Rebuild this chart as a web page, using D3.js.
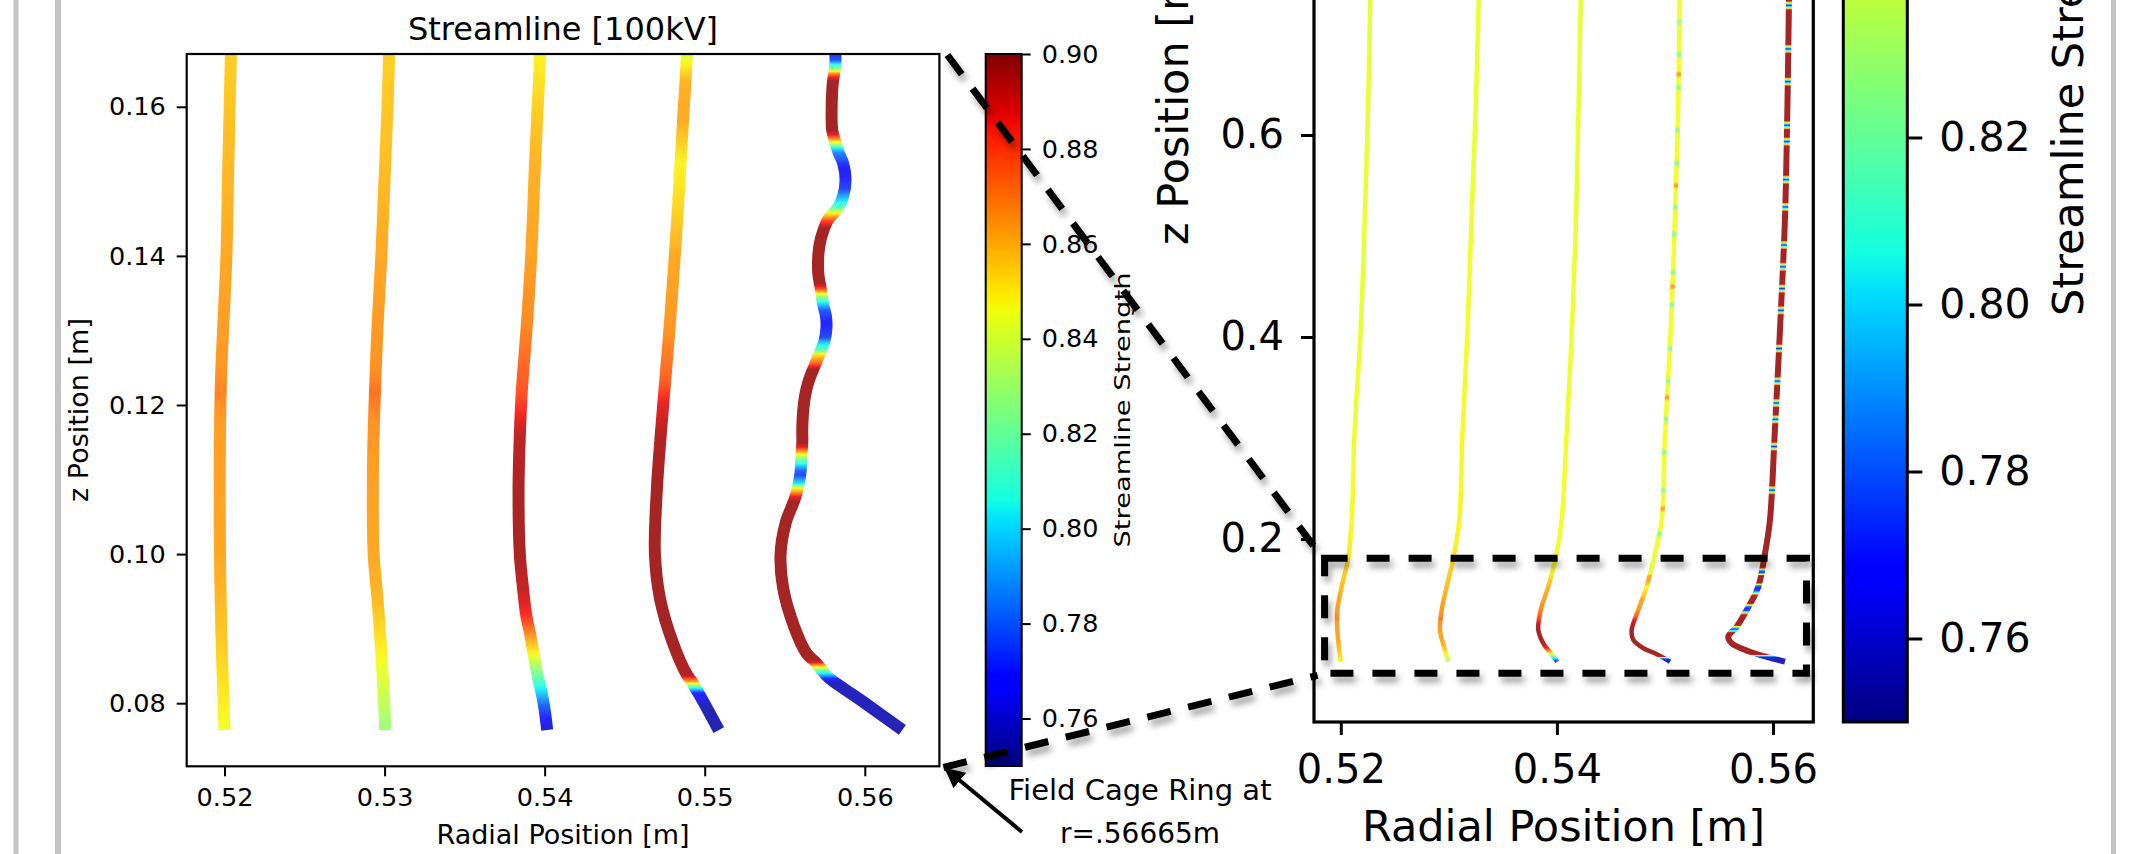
<!DOCTYPE html>
<html>
<head>
<meta charset="utf-8">
<script src="https://cdn.jsdelivr.net/npm/d3@7"></script>
<style>
  html, body { margin: 0; padding: 0; background: #fff; overflow: hidden; }
  svg { display: block; }
  text { font-family: "DejaVu Sans", sans-serif; fill: #000; }
</style>
</head>
<body>
<svg id="fig" width="2150" height="854"></svg>
<script>
// ---------------- data ----------------
// Detailed streamline paths near the cathode, [radial position (m), z position (m)], top to bottom.
const path1 = [[0.5229,0.80],[0.52273,0.7337],[0.52252,0.6258],[0.52222,0.5179],[0.52185,0.4101],[0.52126,0.3023],[0.52052,0.1944],
  [0.52040,0.1670],[0.52024,0.1524],[0.52012,0.1400],[0.51976,0.1217],[0.51972,0.1000],[0.51984,0.0867],[0.52000,0.0764]];
const path2 = [[0.5329,0.80],[0.53277,0.7337],[0.53248,0.6258],[0.53210,0.5179],[0.53174,0.4101],[0.53107,0.3023],[0.53035,0.1944],
  [0.53028,0.1670],[0.53004,0.1524],[0.52980,0.1400],[0.52956,0.1305],[0.52940,0.1217],[0.52928,0.1122],[0.52932,0.1000],
  [0.52956,0.0940],[0.52980,0.0867],[0.52996,0.0808],[0.53004,0.0764]];
const path3 = [[0.5423,0.80],[0.54221,0.7337],[0.54200,0.6258],[0.54177,0.5179],[0.54140,0.4101],[0.54089,0.3023],[0.54000,0.1944],
  [0.53972,0.1670],[0.53956,0.1597],[0.53940,0.1524],[0.53916,0.1400],[0.53888,0.1305],[0.53857,0.1217],[0.53845,0.1159],
  [0.53837,0.1086],[0.53845,0.1000],[0.53865,0.0954],[0.53885,0.0918],[0.53910,0.0892],[0.53930,0.0867],[0.53956,0.0837],
  [0.53976,0.0819],[0.53996,0.0797],[0.54016,0.0764]];
const path4 = [[0.5514,0.80],[0.55136,0.7337],[0.55122,0.6258],[0.55092,0.5179],[0.55055,0.4101],[0.54988,0.3023],[0.54900,0.1944],
  [0.54888,0.1670],[0.54880,0.1634],[0.54865,0.1583],[0.54849,0.1524],[0.54829,0.1451],[0.54813,0.1400],[0.54781,0.1305],
  [0.54753,0.1232],[0.54725,0.1159],[0.54701,0.1086],[0.54689,0.1000],[0.54721,0.0940],[0.54801,0.0881],[0.54892,0.0837],
  [0.54920,0.0829],[0.54940,0.0821],[0.54960,0.0814],[0.55012,0.0794],[0.55088,0.0764]];
const path5 = [[0.5616,0.80],[0.56148,0.7337],[0.56133,0.6258],[0.56111,0.5179],[0.56066,0.4101],[0.56015,0.3023],[0.55920,0.1944],
  [0.55817,0.16701],[0.55817,0.16592],[0.55809,0.16446],[0.55801,0.16336],[0.55793,0.15971],[0.55797,0.15679],[0.55817,0.15518],
  [0.55837,0.15386],[0.55865,0.15240],[0.55880,0.15021],[0.55865,0.14802],[0.55825,0.14619],[0.55777,0.14510],[0.55745,0.14364],
  [0.55717,0.14145],[0.55709,0.13779],[0.55725,0.13560],[0.55737,0.13378],[0.55757,0.13195],[0.55761,0.13049],[0.55749,0.12866],
  [0.55717,0.12684],[0.55689,0.12538],[0.55649,0.12318],[0.55625,0.12099],[0.55610,0.11734],[0.55610,0.11515],[0.55606,0.11369],
  [0.55602,0.11223],[0.55598,0.11077],[0.55586,0.10931],[0.55574,0.10821],[0.55558,0.10711],[0.55506,0.10419],[0.55474,0.10003],
  [0.55490,0.09543],[0.55558,0.09031],[0.55637,0.08666],[0.55689,0.08557],[0.55717,0.08484],[0.55745,0.08411],[0.55777,0.08337],
  [0.55996,0.08009],[0.56235,0.07643]];

// Coarser streamline paths of the full-height view, [radial position (m), z position (m)].
const fullPath1 = [[0.5229,0.80],[0.52273,0.7337],[0.52252,0.6258],[0.52222,0.5179],[0.52185,0.4101],[0.52126,0.3023],[0.52101,0.2188],
  [0.52069,0.1809],[0.52008,0.1528],[0.51968,0.1297],[0.51968,0.1099],[0.51999,0.0785]];
const fullPath2 = [[0.5329,0.80],[0.53277,0.7337],[0.53248,0.6258],[0.53210,0.5179],[0.53174,0.4101],[0.53125,0.3023],[0.53097,0.2188],
  [0.53041,0.1809],[0.52980,0.1528],[0.52934,0.1297],[0.52918,0.1099],[0.52955,0.0934],[0.52995,0.0785]];
const fullPath3 = [[0.5423,0.80],[0.54221,0.7337],[0.54200,0.6258],[0.54177,0.5179],[0.54140,0.4101],[0.54089,0.3023],[0.54044,0.2188],
  [0.53998,0.1858],[0.53920,0.1528],[0.53850,0.1297],[0.53828,0.1099],[0.53874,0.0967],[0.53943,0.0868],[0.54004,0.0785]];
const fullPath4 = [[0.5514,0.80],[0.55136,0.7337],[0.55122,0.6258],[0.55092,0.5179],[0.55055,0.4101],[0.55000,0.3023],[0.54970,0.2188],
  [0.54908,0.1858],[0.54831,0.1528],[0.54753,0.1297],[0.54692,0.1099],[0.54707,0.1000],[0.54800,0.0918],[0.54908,0.0868],[0.55047,0.0785]];
const fullPath5 = [[0.5616,0.80],[0.56148,0.7337],[0.56133,0.6258],[0.56111,0.5179],[0.56066,0.4101],[0.56015,0.3023],[0.55972,0.2188],
  [0.55926,0.1858],[0.55864,0.1528],[0.55757,0.1297],[0.55664,0.1132],[0.55586,0.1033],[0.55618,0.0967],[0.55787,0.0884],[0.56111,0.0785]];

// Streamline strength along each line as [z position (m), strength], top to bottom.
const strength1 = [[0.80,0.843],[0.30,0.845],[0.20,0.848],[0.167,0.855],[0.14,0.862],[0.125,0.865],[0.1217,0.869],[0.118,0.864],
  [0.10,0.862],[0.09,0.857],[0.0764,0.846]];
const strength2 = [[0.80,0.843],[0.20,0.848],[0.167,0.855],[0.1524,0.858],[0.14,0.862],[0.125,0.866],[0.1217,0.872],[0.118,0.866],
  [0.1122,0.864],[0.10,0.862],[0.094,0.859],[0.0867,0.848],[0.0808,0.838],[0.0764,0.828]];
const strength3 = [[0.80,0.843],[0.20,0.846],[0.167,0.848],[0.1597,0.855],[0.1524,0.860],[0.14,0.863],[0.1305,0.868],[0.1217,0.878],
  [0.1159,0.893],[0.1086,0.896],[0.10,0.896],[0.0954,0.892],[0.0918,0.884],[0.0892,0.866],[0.0867,0.848],[0.0837,0.820],
  [0.0819,0.803],[0.0797,0.780],[0.0764,0.758]];
const strength4 = [[0.80,0.846],[0.20,0.846],[0.172,0.843],[0.167,0.842],[0.1634,0.860],[0.1583,0.862],[0.1524,0.848],[0.1451,0.855],
  [0.14,0.862],[0.1305,0.865],[0.1232,0.875],[0.1210,0.885],[0.1159,0.895],[0.1086,0.897],[0.10,0.897],[0.0881,0.897],
  [0.0837,0.895],[0.0829,0.862],[0.0821,0.810],[0.0814,0.770],[0.0794,0.755],[0.0764,0.755]];
const strength5 = [[0.80,0.897],[0.20,0.897],[0.1720,0.897],[0.1705,0.860],[0.1690,0.800],[0.1675,0.772],
  [0.1670,0.772],[0.1663,0.776],[0.1657,0.805],[0.1650,0.830],[0.1645,0.865],[0.1640,0.886],[0.1634,0.897],[0.1568,0.897],
  [0.1562,0.886],[0.1556,0.862],[0.1550,0.835],[0.1545,0.805],[0.1538,0.785],[0.1515,0.765],[0.1490,0.775],[0.1475,0.800],
  [0.1465,0.815],[0.1457,0.850],[0.1447,0.880],[0.1437,0.897],[0.1363,0.897],[0.1356,0.880],[0.1350,0.850],[0.1343,0.820],
  [0.1336,0.800],[0.1327,0.778],[0.1310,0.768],[0.1291,0.775],[0.1283,0.800],[0.1274,0.815],[0.1268,0.850],[0.1258,0.870],
  [0.1248,0.897],[0.1149,0.897],[0.1143,0.885],[0.1138,0.865],[0.1134,0.848],[0.1128,0.825],[0.1120,0.803],[0.1112,0.780],
  [0.1106,0.775],[0.1100,0.790],[0.1094,0.805],[0.1089,0.845],[0.1083,0.865],[0.1078,0.885],[0.1070,0.897],[0.0858,0.897],
  [0.0854,0.885],[0.0849,0.850],[0.0843,0.815],[0.0838,0.795],[0.0833,0.770],[0.0828,0.757],[0.0764,0.755]];

// Short bands of differing strength along the upper parts of the outer lines (z positions, m).
const greenBands4  = [0.7121,0.6797,0.6474,0.6043,0.5719,0.5287,0.5018,0.4641,0.4317,0.3885,0.3562,0.3184,0.2860,0.2483,0.2051];
const orangeBands4 = [0.6600,0.5500,0.4500,0.3400,0.2300];
const blueBands5   = [0.7283,0.6852,0.6528,0.6097,0.5935,0.5558,0.5288,0.4911,0.4695,0.4479,0.4264,0.3886,0.3563,0.3347,0.3185,0.2916,0.2484];

// Ticks
const zoomRTicks = [0.52,0.53,0.54,0.55,0.56];
const zoomZTicks = [0.08,0.10,0.12,0.14,0.16];
const fullRTicks = [0.52,0.54,0.56];
const fullZTicks = [0.2,0.4,0.6,0.8];
const cbarTicks  = [0.76,0.78,0.80,0.82,0.84,0.86,0.88,0.90];
const cbarRange  = [0.75,0.90];

// Region of the full view that the detailed panel shows
const zoomBoxR = [0.5185,0.5631];
const zoomBoxZ = [0.0670,0.1809];

// ---------------- helpers ----------------
function jet(f) {
  f = Math.max(0, Math.min(1, f));
  const seg = pts => {
    for (let i = 1; i < pts.length; i++) {
      if (f <= pts[i][0]) {
        const [x0, y0] = pts[i - 1], [x1, y1] = pts[i];
        return y0 + (y1 - y0) * (f - x0) / (x1 - x0);
      }
    }
    return pts[pts.length - 1][1];
  };
  const r = seg([[0,0],[0.35,0],[0.66,1],[0.89,1],[1,0.5]]);
  const g = seg([[0,0],[0.125,0],[0.375,1],[0.64,1],[0.91,0],[1,0]]);
  const b = seg([[0,0.5],[0.11,1],[0.34,1],[0.65,0],[1,0]]);
  return d3.rgb(r * 255, g * 255, b * 255).formatHex();
}
const cnorm = d3.scaleLinear().domain(cbarRange).range([0, 1]).clamp(true);
const jetS = s => jet(cnorm(s));

function withBands(profile, bands, base, value, half) {
  const out = profile.slice();
  bands.forEach(z => { out.push([z + half, base], [z, value], [z - half, base]); });
  return out.sort((a, b) => b[0] - a[0]);
}

const lines = [
  { path: path1, full: fullPath1, strength: strength1 },
  { path: path2, full: fullPath2, strength: strength2 },
  { path: path3, full: fullPath3, strength: strength3 },
  { path: path4, full: fullPath4, strength: withBands(withBands(strength4, greenBands4, 0.846, 0.822, 0.004), orangeBands4, 0.846, 0.866, 0.004) },
  { path: path5, full: fullPath5, strength: withBands(strength5, blueBands5, 0.897, 0.770, 0.0045) }
];

// ---------------- layout ----------------
const svg = d3.select('#fig');
const defs = svg.append('defs');

const shadow = defs.append('filter').attr('id', 'shadow')
  .attr('x', '-20%').attr('y', '-20%').attr('width', '140%').attr('height', '140%');
shadow.append('feDropShadow').attr('dx', 3).attr('dy', 6).attr('stdDeviation', 3)
  .attr('flood-color', '#000').attr('flood-opacity', 0.35);

defs.append('marker').attr('id', 'arrowhead').attr('viewBox', '0 0 10 10')
  .attr('refX', 9).attr('refY', 5).attr('markerWidth', 5).attr('markerHeight', 5)
  .attr('markerUnits', 'strokeWidth').attr('orient', 'auto')
  .append('path').attr('d', 'M0,0 L10,5 L0,10 z').attr('fill', '#000');

// page border lines
[[13.5, 5], [55, 6], [2111, 5]].forEach(([x, w]) =>
  svg.append('rect').attr('x', x).attr('y', 0).attr('width', w).attr('height', 854).attr('fill', '#c3c3c3'));

// scales
const zx = d3.scaleLinear().domain([0.517639, 0.564662]).range([186.7, 939.4]);
const zy = d3.scaleLinear().domain([0.071536, 0.16708]).range([766.3, 54]);
const fx = d3.scaleLinear().domain([0.51752, 0.56373]).range([1314, 1813.3]);
const fy = d3.scaleLinear().domain([0.0188, 0.80]).range([722, -67]);
const cbMid = d3.scaleLinear().domain(cbarRange).range([766, 54]);
const cbRight = d3.scaleLinear().domain(cbarRange).range([722, -530.5]);

function addStrengthGradient(id, strength, y) {
  const y1 = y(strength[0][0]), y2 = y(strength[strength.length - 1][0]);
  const g = defs.append('linearGradient').attr('id', id).attr('gradientUnits', 'userSpaceOnUse')
    .attr('x1', 0).attr('x2', 0).attr('y1', y1).attr('y2', y2);
  const n = 6;
  for (let i = 0; i < strength.length - 1; i++) {
    const [za, sa] = strength[i], [zb, sb] = strength[i + 1];
    for (let k = 0; k < n; k++) {
      const t = k / n, z = za + (zb - za) * t, s = sa + (sb - sa) * t;
      g.append('stop').attr('offset', (y(z) - y1) / (y2 - y1)).attr('stop-color', jetS(s));
    }
  }
  const last = strength[strength.length - 1];
  g.append('stop').attr('offset', 1).attr('stop-color', jetS(last[1]));
}

function drawPanel(key, x, y, clip, widths, pick) {
  defs.append('clipPath').attr('id', 'clip-' + key).append('rect')
    .attr('x', clip[0]).attr('y', clip[1]).attr('width', clip[2] - clip[0]).attr('height', clip[3] - clip[1]);
  const g = svg.append('g').attr('clip-path', `url(#clip-${key})`);
  const lineGen = d3.line().x(d => x(d[0])).y(d => y(d[1])).curve(d3.curveCatmullRom.alpha(0.5));
  lines.forEach((ln, i) => {
    const id = `grad-${key}-${i}`;
    addStrengthGradient(id, ln.strength, y);
    g.append('path').attr('d', lineGen(pick(ln))).attr('fill', 'none')
      .attr('stroke', `url(#${id})`).attr('stroke-width', widths[i])
      .attr('stroke-opacity', 0.86).attr('stroke-linecap', 'butt').attr('stroke-linejoin', 'round');
  });
}

function styleAxis(sel, fontSize, strokeW) {
  sel.select('.domain').remove();
  sel.selectAll('.tick line').attr('stroke', '#000').attr('stroke-width', strokeW);
  sel.selectAll('.tick text').attr('font-family', '"DejaVu Sans", sans-serif').attr('font-size', fontSize).attr('fill', '#000');
}

// ---------- detailed panel (left) ----------
drawPanel('zoom', zx, zy, [186.7, 54, 939.4, 766.3], [12, 12, 12, 12, 12], ln => ln.path);
svg.append('rect').attr('x', 186.7).attr('y', 54).attr('width', 939.4 - 186.7).attr('height', 766.3 - 54)
  .attr('fill', 'none').attr('stroke', '#000').attr('stroke-width', 2.2);

svg.append('g').attr('transform', 'translate(0,766.3)')
  .call(d3.axisBottom(zx).tickValues(zoomRTicks).tickFormat(d3.format('.2f')).tickSize(10).tickPadding(12))
  .call(s => styleAxis(s, 25.5, 2));
svg.append('g').attr('transform', 'translate(186.7,0)')
  .call(d3.axisLeft(zy).tickValues(zoomZTicks).tickFormat(d3.format('.2f')).tickSize(10).tickPadding(11))
  .call(s => styleAxis(s, 25.5, 2));

svg.append('text').attr('x', 563).attr('y', 40).attr('text-anchor', 'middle').attr('font-size', 32).text('Streamline [100kV]');
svg.append('text').attr('x', 563).attr('y', 844).attr('text-anchor', 'middle').attr('font-size', 27).text('Radial Position [m]');
svg.append('text').attr('transform', 'translate(88,410) rotate(-90)').attr('text-anchor', 'middle')
  .attr('font-size', 27).text('z Position [m]');

// ---------- colour bars ----------
const cbGrad = defs.append('linearGradient').attr('id', 'jetbar').attr('x1', 0).attr('y1', 1).attr('x2', 0).attr('y2', 0);
d3.range(0, 1.0001, 1 / 64).forEach(f => cbGrad.append('stop').attr('offset', f).attr('stop-color', jet(f)));

function drawColorbar(x0, w, scale, fontSize, strokeW, tickLen, pad) {
  svg.append('rect').attr('x', x0).attr('y', scale(cbarRange[1])).attr('width', w)
    .attr('height', scale(cbarRange[0]) - scale(cbarRange[1]))
    .attr('fill', 'url(#jetbar)').attr('stroke', '#000').attr('stroke-width', strokeW);
  svg.append('g').attr('transform', `translate(${x0 + w},0)`)
    .call(d3.axisRight(scale).tickValues(cbarTicks).tickFormat(d3.format('.2f')).tickSize(tickLen).tickPadding(pad))
    .call(s => styleAxis(s, fontSize, strokeW));
}
drawColorbar(985.7, 36, cbMid, 25.5, 2, 9, 11);
svg.append('text').attr('transform', 'translate(1130,410) rotate(-90)').attr('text-anchor', 'middle')
  .attr('font-size', 21).attr('textLength', 275).attr('lengthAdjust', 'spacingAndGlyphs').text('Streamline Strength');

// ---------- full view panel (right) ----------
drawPanel('full', fx, fy, [1314, -80, 1813.3, 722], [4.5, 4.5, 4.5, 4.5, 6], ln => ln.full);
svg.append('rect').attr('x', 1314).attr('y', -80).attr('width', 1813.3 - 1314).attr('height', 722 + 80)
  .attr('fill', 'none').attr('stroke', '#000').attr('stroke-width', 3.2);

svg.append('g').attr('transform', 'translate(0,722)')
  .call(d3.axisBottom(fx).tickValues(fullRTicks).tickFormat(d3.format('.2f')).tickSize(13).tickPadding(20))
  .call(s => styleAxis(s, 40, 3));
svg.append('g').attr('transform', 'translate(1314,0)')
  .call(d3.axisLeft(fy).tickValues(fullZTicks).tickFormat(d3.format('.1f')).tickSize(13).tickPadding(17))
  .call(s => styleAxis(s, 40, 3));

svg.append('text').attr('x', 1563.5).attr('y', 841).attr('text-anchor', 'middle').attr('font-size', 43).text('Radial Position [m]');
svg.append('text').attr('transform', 'translate(1188,245) rotate(-90)').attr('text-anchor', 'start')
  .attr('font-size', 43).text('z Position [m]');

drawColorbar(1843.3, 64, cbRight, 41, 3, 15, 17);
svg.append('text').attr('transform', 'translate(2083,316) rotate(-90)').attr('text-anchor', 'start')
  .attr('font-size', 43).text('Streamline Strength');

// ---------- zoom annotation ----------
const ann = svg.append('g').attr('filter', 'url(#shadow)');
const bx0 = fx(zoomBoxR[0]), bx1 = fx(zoomBoxR[1]), by0 = fy(zoomBoxZ[1]), by1 = fy(zoomBoxZ[0]);
ann.append('rect').attr('x', bx0).attr('y', by0).attr('width', bx1 - bx0).attr('height', by1 - by0)
  .attr('fill', 'none').attr('stroke', '#000').attr('stroke-width', 7).attr('stroke-dasharray', '23,19');
ann.append('line').attr('x1', zx.range()[1] + 8).attr('y1', zy.range()[1] + 1).attr('x2', bx0 - 7).attr('y2', by0 - 7)
  .attr('stroke', '#000').attr('stroke-width', 7).attr('stroke-dasharray', '24,18');
ann.append('line').attr('x1', zx.range()[1] + 4).attr('y1', zy.range()[0] + 1).attr('x2', bx0 - 7).attr('y2', by1 + 2)
  .attr('stroke', '#000').attr('stroke-width', 7).attr('stroke-dasharray', '24,18');

// field cage ring pointer
svg.append('line').attr('x1', 1022).attr('y1', 832).attr('x2', 946).attr('y2', 769)
  .attr('stroke', '#000').attr('stroke-width', 4).attr('marker-end', 'url(#arrowhead)');
svg.append('text').attr('x', 1140).attr('y', 800).attr('text-anchor', 'middle')
  .attr('font-family', 'Lato, "Open Sans", sans-serif').attr('font-size', 29)
  .attr('textLength', 263).attr('lengthAdjust', 'spacingAndGlyphs').text('Field Cage Ring at');
svg.append('text').attr('x', 1140).attr('y', 843).attr('text-anchor', 'middle')
  .attr('font-family', 'Lato, "Open Sans", sans-serif').attr('font-size', 29)
  .attr('textLength', 160).attr('lengthAdjust', 'spacingAndGlyphs').text('r=.56665m');
</script>
</body>
</html>
